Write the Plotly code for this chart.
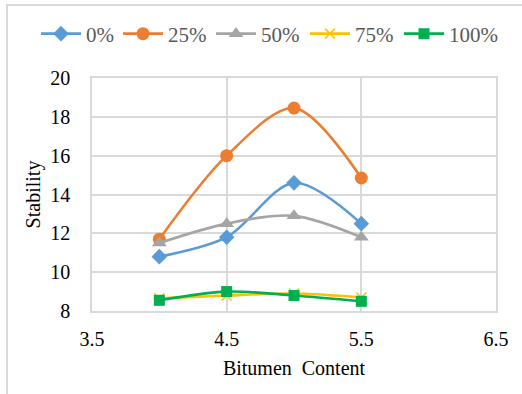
import plotly.graph_objects as go

# Bitumen content (%) and Marshall stability for each replacement level
bitumen_content = [4.0, 4.5, 5.0, 5.5]
series_names = ["0%", "25%", "50%", "75%", "100%"]
stability_0 = [10.8, 11.8, 14.6, 12.5]
stability_25 = [11.7, 16.0, 18.45, 14.85]
stability_50 = [11.5, 12.5, 12.9, 11.8]
stability_75 = [8.65, 8.8, 8.9, 8.7]
stability_100 = [8.55, 9.0, 8.8, 8.5]
x_ticks = [3.5, 4.5, 5.5, 6.5]
y_ticks = [8, 10, 12, 14, 16, 18, 20]

series_values = [stability_0, stability_25, stability_50, stability_75, stability_100]
colors = ["#5b9bd5", "#ed7d31", "#a5a5a5", "#ffc000", "#00b050"]
symbols = ["diamond", "circle", "triangle-up", "x-thin-open", "square"]
sizes = [12, 13, 13, 10, 11]

FONT = "Liberation Serif, Times New Roman, serif"

W, H = 522, 394
L, R, T, B = 92, 26, 78, 83
pw, ph = W - L - R, H - T - B

# one legend per series so the entries sit in a single row across the top
legend_ids = ["legend", "legend2", "legend3", "legend4", "legend5"]
legend_text_x = [88, 170, 263, 357, 451]

fig = go.Figure()
for name, vals, c, s, sz, lg in zip(series_names, series_values, colors, symbols, sizes, legend_ids):
    fig.add_trace(go.Scatter(
        x=bitumen_content, y=vals, name=name, mode="lines+markers", legend=lg,
        line=dict(color=c, width=2.6, shape="spline", smoothing=0.9),
        marker=dict(symbol=s, size=sz, color=c,
                    line=dict(color=c, width=1.5 if s == "x-thin-open" else 0)),
    ))

# light outer frame of the chart area
fig.add_shape(type="rect", xref="paper", yref="paper",
              x0=(7 - L) / pw, x1=(W + 20 - L) / pw,
              y0=-(H + 20 - (H - B)) / ph, y1=1 + (T - 5) / ph,
              line=dict(color="#d9d9d9", width=2), layer="below")

legend_style = dict(orientation="h", xanchor="left", xref="container",
                    yref="container", y=1 - 34 / H, yanchor="middle",
                    font=dict(family=FONT, size=21, color="#595959"),
                    itemwidth=40, bgcolor="rgba(0,0,0,0)")
legends = {lg: dict(legend_style, x=(tx - 52) / W) for lg, tx in zip(legend_ids, legend_text_x)}

grid = "#d9d9d9"
fig.update_layout(
    width=W, height=H,
    margin=dict(l=L, r=R, t=T, b=B, autoexpand=False),
    paper_bgcolor="white", plot_bgcolor="white",
    font=dict(family=FONT, size=20, color="#000000"),
    showlegend=True,
    **legends,
    xaxis=dict(range=[3.5, 6.5], tickvals=x_ticks, ticktext=[str(v) for v in x_ticks],
               showgrid=True, gridcolor=grid, gridwidth=1.5,
               showline=True, linecolor=grid, linewidth=1.5, mirror=True,
               zeroline=False, ticks="", ticklabelstandoff=9,
               title=dict(text="Bitumen  Content", font=dict(family=FONT, size=20), standoff=12)),
    yaxis=dict(range=[8, 20], tickvals=y_ticks,
               showgrid=True, gridcolor=grid, gridwidth=1.5,
               showline=True, linecolor=grid, linewidth=1.5, mirror=True,
               zeroline=False, ticks="", ticklabelstandoff=16,
               title=dict(text="Stability", font=dict(family=FONT, size=20), standoff=4)),
)

fig.write_html("out.html")
